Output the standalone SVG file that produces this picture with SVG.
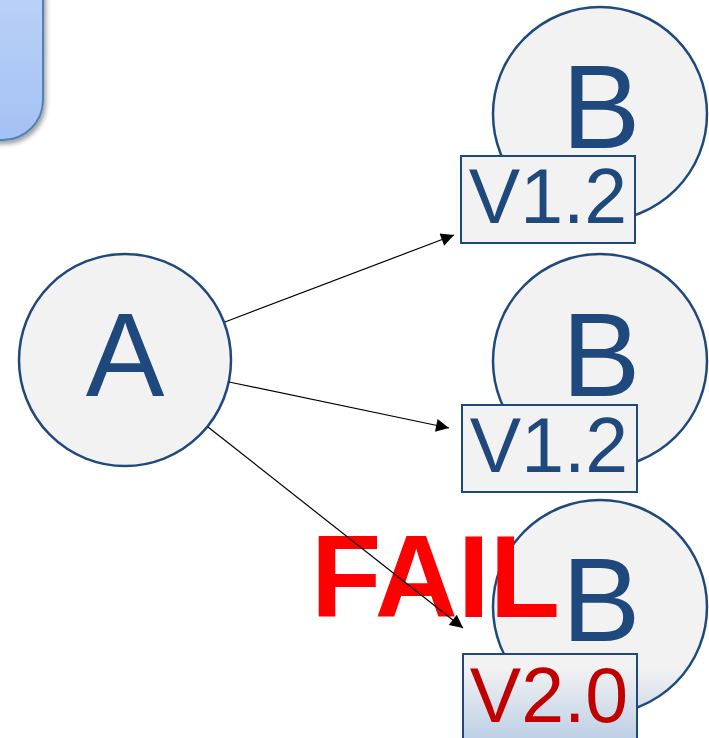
<svg xmlns="http://www.w3.org/2000/svg" width="709" height="738" viewBox="0 0 709 738">
<defs>
<style>
.node circle{fill:#f2f2f2;stroke:#1f497d;stroke-width:2.5}
.tag{fill:#f2f2f2;stroke:#1f497d;stroke-width:2}
.big{font-family:"Liberation Sans",Arial,sans-serif;font-size:118px;fill:#1f497d;text-anchor:middle}
.ver{font-family:"Liberation Sans",Arial,sans-serif;font-size:77px;fill:#1f497d;text-anchor:middle}
.conn line{stroke:#000;stroke-width:1.2;marker-end:url(#ah)}
</style>
<marker id="ah" viewBox="0 0 10 10" refX="10" refY="5" markerWidth="16" markerHeight="13" markerUnits="userSpaceOnUse" orient="auto">
<path d="M0,0 L10,5 L0,10 z" fill="#000"/>
</marker>
<linearGradient id="blue" x1="0" y1="0" x2="0" y2="1">
<stop offset="0" stop-color="#cadcfa"/>
<stop offset="1" stop-color="#a3c1f3"/>
</linearGradient>
<linearGradient id="tint" gradientUnits="userSpaceOnUse" x1="0" y1="668" x2="0" y2="738">
<stop offset="0" stop-color="#b8cce4" stop-opacity="0"/>
<stop offset="1" stop-color="#b8cce4" stop-opacity="0.9"/>
</linearGradient>
<filter id="sh" x="-20%" y="-20%" width="140%" height="140%">
<feGaussianBlur in="SourceAlpha" stdDeviation="2.5"/>
<feOffset dx="2" dy="3" result="b"/>
<feComponentTransfer><feFuncA type="linear" slope="0.4"/></feComponentTransfer>
<feMerge><feMergeNode/><feMergeNode in="SourceGraphic"/></feMerge>
</filter>
<clipPath id="cclip"><circle cx="600" cy="607" r="106"/></clipPath>
<clipPath id="rclip"><rect x="464" y="655" width="172" height="90"/></clipPath>
</defs>

<g id="panel">
<rect x="-100" y="-100" width="143" height="240" rx="40" fill="url(#blue)" stroke="#4f81bd" stroke-width="2" filter="url(#sh)"/>
</g>

<g id="nodeA" class="node">
<circle cx="125" cy="360" r="106"/>
<text class="big" x="125" y="396">A</text>
</g>

<g id="nodeB1" class="node">
<circle cx="600" cy="114" r="107"/>
<text class="big" x="601" y="148">B</text>
<rect class="tag" x="461" y="156" width="174" height="87"/>
<text class="ver" x="548" y="223">V1.2</text>
</g>

<g id="nodeB2" class="node">
<circle cx="600" cy="361" r="107"/>
<text class="big" x="601" y="396">B</text>
<rect class="tag" x="462" y="405" width="175" height="87"/>
<text class="ver" x="549" y="472">V1.2</text>
</g>

<g id="nodeB3" class="node">
<circle cx="600" cy="607" r="107"/>
<rect x="480" y="665" width="240" height="80" fill="url(#tint)" clip-path="url(#cclip)"/>
<text class="big" x="601" y="641">B</text>
<rect class="tag" x="463" y="654" width="174" height="100"/>
<rect x="460" y="665" width="180" height="80" fill="url(#tint)" clip-path="url(#rclip)"/>
<text class="ver" x="549" y="722" style="fill:#c00000">V2.0</text>
</g>

<g id="fail">
<text x="311" y="617" font-family="'Liberation Sans',Arial,sans-serif" font-weight="bold" font-size="116" fill="#ff0000" textLength="249" lengthAdjust="spacingAndGlyphs">FAIL</text>
</g>

<g id="connectors" class="conn">
<line x1="225" y1="322" x2="454" y2="235"/>
<line x1="229" y1="382" x2="449" y2="428"/>
<line x1="208" y1="427" x2="463" y2="628"/>
</g>
</svg>
